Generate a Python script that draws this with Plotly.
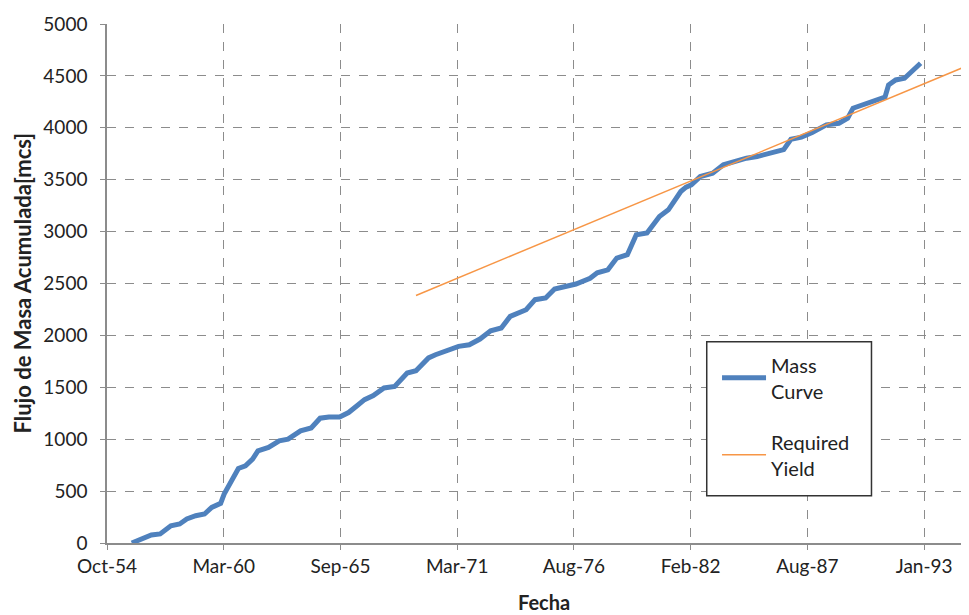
import pandas as pd
import plotly.graph_objects as go

# Curva masa - lectura del grafico original
fechas_masa = [
    "1955-12", "1956-11", "1957-04", "1957-10", "1958-03", "1958-07", "1958-12",
    "1959-05", "1959-09", "1960-02", "1960-04", "1960-10", "1960-12", "1961-04",
    "1961-08", "1961-11", "1962-05", "1962-11", "1963-04", "1963-11", "1964-05",
    "1964-10", "1965-03", "1965-09", "1966-02", "1966-07", "1966-11", "1967-04",
    "1967-10", "1968-04", "1968-11", "1969-04", "1969-11", "1970-03", "1970-09",
    "1971-04", "1971-10", "1972-04", "1972-10", "1973-04", "1973-09", "1974-06",
    "1974-11", "1975-05", "1975-10", "1976-04", "1976-10", "1977-06", "1977-10",
    "1978-04", "1978-09", "1979-03", "1979-08", "1980-02", "1980-09", "1981-02",
    "1981-09", "1981-12", "1982-03", "1982-08", "1983-03", "1983-09", "1984-03",
    "1984-10", "1985-04", "1985-12", "1986-07", "1986-11", "1987-05", "1987-11",
    "1988-07", "1989-02", "1989-07", "1989-10", "1990-03", "1990-10", "1991-04",
    "1991-06", "1991-10", "1992-03", "1992-07", "1992-12",
]
masa_acumulada = [
    0, 77, 87, 166, 183, 231, 263,
    279, 343, 382, 471, 647, 718, 743,
    808, 888, 920, 984, 1000, 1080, 1108,
    1202, 1213, 1213, 1257, 1325, 1381, 1420,
    1494, 1509, 1638, 1660, 1783, 1814, 1846,
    1894, 1910, 1965, 2045, 2071, 2183, 2247,
    2344, 2360, 2447, 2466, 2495, 2550, 2603,
    2632, 2745, 2777, 2969, 2986, 3145, 3210,
    3386, 3428, 3450, 3530, 3563, 3643, 3675,
    3707, 3723, 3761, 3790, 3890, 3910, 3954,
    4028, 4044, 4092, 4189, 4221, 4268, 4295,
    4413, 4461, 4477, 4541, 4622,
]

# Rendimiento requerido
fechas_req = ["1969-04", "1994-11"]
rendimiento_req = [2385, 4574]

# Eje X: unidad mayor de 2000 dias (como en Excel)
etiquetas_x = ["Oct-54", "Mar-60", "Sep-65", "Mar-71", "Aug-76", "Feb-82", "Aug-87", "Jan-93"]
ticks_x = pd.date_range("1954-10-03", periods=len(etiquetas_x), freq="2000D")

fuente = "Lato"

fig = go.Figure()
fig.add_trace(go.Scatter(
    x=pd.to_datetime(fechas_masa), y=masa_acumulada,
    mode="lines", name="Mass<br>Curve", legendgroup="a",
    line=dict(color="#4F81BD", width=5),
))
fig.add_trace(go.Scatter(
    x=pd.to_datetime(fechas_req), y=rendimiento_req,
    mode="lines", name="Required<br>Yield", legendgroup="b",
    line=dict(color="#F79646", width=1.5),
))

# Caja de la leyenda
fig.add_shape(type="rect", xref="paper", yref="paper",
              x0=0.699, x1=0.891, y0=0.091, y1=0.388,
              line=dict(color="#333333", width=1.5), fillcolor="white", layer="above")

# Titulos de los ejes
fig.add_annotation(text="<b>Flujo de Masa Acumulada[mcs]</b>", textangle=-90,
                   xref="paper", yref="paper", x=-0.099, y=0.5,
                   xanchor="center", yanchor="middle", showarrow=False,
                   font=dict(family=fuente, size=22, color="#222222"))
fig.add_annotation(text="<b>Fecha</b>",
                   xref="paper", yref="paper", x=0.5096, y=-0.113,
                   xanchor="center", yanchor="middle", showarrow=False,
                   font=dict(family=fuente, size=20, color="#222222"))

fig.update_layout(
    width=961, height=607,
    margin=dict(l=99, r=4, t=16, b=72),
    paper_bgcolor="white", plot_bgcolor="white",
    font=dict(family=fuente, size=19, color="#222222"),
    showlegend=True,
    legend=dict(x=0.711, y=0.381, xanchor="left", yanchor="top",
                bgcolor="rgba(0,0,0,0)", borderwidth=0,
                font=dict(family=fuente, size=20, color="#222222"),
                tracegroupgap=22, itemwidth=44),
    xaxis=dict(
        type="date",
        range=["1954-10-03", "1995-01-01"],
        tickvals=ticks_x, ticktext=etiquetas_x,
        showgrid=True, gridcolor="#8c8c8c", griddash="dash", gridwidth=1.2,
        showline=True, linecolor="#8c8c8c", linewidth=1.5,
        ticks="outside", ticklen=5, tickcolor="#8c8c8c",
        zeroline=False,
    ),
    yaxis=dict(
        range=[0, 5000], tickvals=list(range(0, 5001, 500)),
        showgrid=True, gridcolor="#8c8c8c", griddash="dash", gridwidth=1.2,
        showline=True, linecolor="#8c8c8c", linewidth=1.5,
        ticks="outside", ticklen=5, tickcolor="#8c8c8c",
        ticklabelstandoff=9,
        zeroline=False,
    ),
)

fig.write_html("out.html")
